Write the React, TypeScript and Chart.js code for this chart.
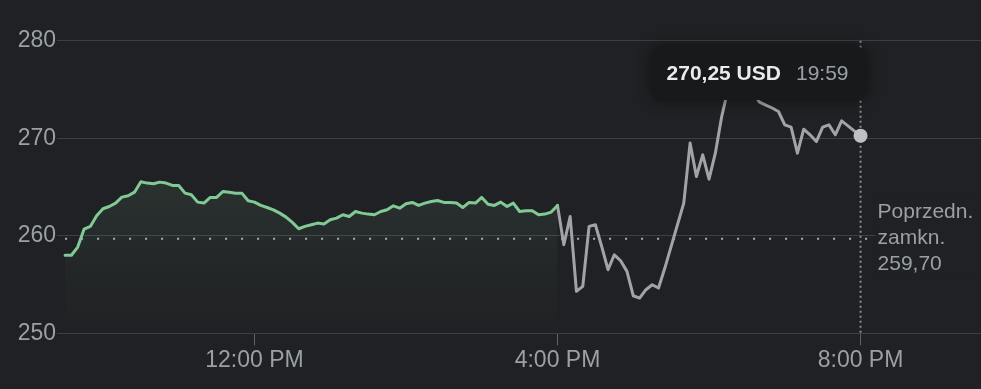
import React, { useEffect, useRef } from "react";
import { Chart, registerables } from "chart.js";

Chart.register(...registerables);

// ---- data ----
const SESSION_START = 570; // 9:30 (minutes from midnight)
const AFTER_START = 960; // 16:00
const STEP = 5; // minutes between points

const sessionValues = [
  258.0, 258.0, 258.84, 260.68, 260.96, 262.05, 262.77, 263.0, 263.35, 263.96,
  264.1, 264.47, 265.53, 265.4, 265.33, 265.5, 265.4, 265.16, 265.16, 264.37,
  264.2, 263.45, 263.35, 263.93, 263.93, 264.54, 264.47, 264.37, 264.37, 263.59,
  263.45, 263.11, 262.9, 262.66, 262.32, 261.91, 261.37, 260.72, 260.96, 261.13,
  261.3, 261.2, 261.64, 261.81, 262.15, 261.98, 262.49, 262.32, 262.22, 262.15,
  262.49, 262.66, 263.07, 262.83, 263.28, 263.42, 263.11, 263.35, 263.52, 263.62,
  263.42, 263.42, 263.35, 262.9, 263.42, 263.35, 263.93, 263.24, 263.11, 263.45,
  263.0, 263.35, 262.49, 262.56, 262.56, 262.15, 262.22, 262.43, 263.11,
];

const afterHoursValues = [
  263.11, 259.08, 261.98, 254.3, 254.81, 260.96, 261.13, 258.9, 256.52, 258.05,
  257.44, 256.35, 253.85, 253.61, 254.47, 254.98, 254.64, 256.69, 258.91, 261.13,
  263.35, 269.5, 266.08, 268.3, 265.8, 268.47, 272.2, 275.0, 275.8, 276.0,
  275.5, 274.6, 273.7, 273.4, 273.1, 272.74, 271.37, 271.14, 268.47, 270.93,
  270.35, 269.66, 271.14, 271.37, 270.35, 271.78, 271.27, 270.76, 270.25,
];

const PREV_CLOSE = 259.7;
const prevCloseLabel = ["Poprzedn.", "zamkn.", "259,70"];
const tooltipPrice = "270,25 USD";
const tooltipTime = "19:59";

const xTickValues = [720, 960, 1200];
const xTickLabels = ["12:00 PM", "4:00 PM", "8:00 PM"];
const yTickValues = [250, 260, 270, 280];
const X_MIN = 563.6;
const X_MAX = 1295.4;
const Y_MIN = 250;
const Y_MAX = 280;

// ---- styles ----
const BG = "#202124";
const GRID = "#3c4043";
const TEXT = "#9aa0a6";
const GREEN = "#81c995";
const GRAY_LINE = "#a0a4a9";
const DOT = "#bdc1c6";
const FONT = '"Liberation Sans", Arial, sans-serif';

const overlayPlugin = {
  id: "overlay",
  beforeDatasetsDraw(chart: any) {
    const { ctx, chartArea, scales } = chart;
    const x = scales.x;
    const y = scales.y;
    const lastX = x.getPixelForValue(AFTER_START + STEP * (afterHoursValues.length - 1));
    const pcY = y.getPixelForValue(PREV_CLOSE);
    ctx.save();
    // background behind the previous close label
    ctx.fillStyle = BG;
    ctx.fillRect(lastX + 15, pcY - 40, chart.width - lastX - 15, 80);
    // previous close dotted line
    ctx.strokeStyle = "#a9adb2";
    ctx.lineWidth = 2;
    ctx.setLineDash([2, 14]);
    ctx.beginPath();
    ctx.moveTo(x.getPixelForValue(SESSION_START), pcY);
    ctx.lineTo(lastX + 16, pcY);
    ctx.stroke();
    // vertical dotted line at the last point
    ctx.strokeStyle = "rgba(154,160,166,0.85)";
    ctx.lineWidth = 2;
    ctx.setLineDash([2, 3]);
    ctx.beginPath();
    ctx.moveTo(lastX, chartArea.top);
    ctx.lineTo(lastX, chartArea.bottom);
    ctx.stroke();
    ctx.setLineDash([]);
    // label
    ctx.fillStyle = TEXT;
    ctx.font = `21px ${FONT}`;
    ctx.textAlign = "left";
    ctx.textBaseline = "middle";
    prevCloseLabel.forEach((t, i) => {
      ctx.fillText(t, lastX + 17, pcY + (i - 1) * 26 - 0.5);
    });
    ctx.restore();
  },
  afterDatasetsDraw(chart: any) {
    const { ctx, scales } = chart;
    const x = scales.x;
    const lastX = x.getPixelForValue(AFTER_START + STEP * (afterHoursValues.length - 1));
    const right = lastX + 5;
    const left = lastX - 208;
    const top = 47;
    const h = 53;
    ctx.save();
    ctx.shadowColor = "rgba(0,0,0,0.55)";
    ctx.shadowBlur = 14;
    ctx.fillStyle = "#18191b";
    ctx.beginPath();
    (ctx as any).roundRect(left, top, right - left, h, 8);
    ctx.fill();
    ctx.shadowColor = "transparent";
    ctx.shadowBlur = 0;
    ctx.textBaseline = "middle";
    ctx.textAlign = "left";
    ctx.fillStyle = "#e8eaed";
    ctx.font = `bold 21px ${FONT}`;
    ctx.fillText(tooltipPrice, left + 14, top + h / 2 + 1);
    ctx.textAlign = "right";
    ctx.fillStyle = TEXT;
    ctx.font = `21px ${FONT}`;
    ctx.fillText(tooltipTime, right - 17, top + h / 2 + 1);
    ctx.restore();
  },
};

const bgPlugin = {
  id: "bg",
  beforeDraw(chart: any) {
    const { ctx } = chart;
    ctx.save();
    ctx.fillStyle = BG;
    ctx.fillRect(0, 0, chart.width, chart.height);
    ctx.restore();
  },
};

export default function App() {
  const ref = useRef<HTMLCanvasElement | null>(null);

  useEffect(() => {
    document.body.style.margin = "0";
    document.body.style.background = BG;
    const canvas = ref.current;
    if (!canvas) return;

    const sessionData = sessionValues.map((v, i) => ({ x: SESSION_START + i * STEP, y: v }));
    const afterData = afterHoursValues.map((v, i) => ({ x: AFTER_START + i * STEP, y: v }));
    const lastIndex = afterData.length - 1;

    const chart = new Chart(canvas, {
      type: "line",
      data: {
        datasets: [
          {
            data: sessionData,
            borderColor: GREEN,
            borderWidth: 3,
            borderJoinStyle: "round",
            borderCapStyle: "round",
            pointRadius: 0,
            fill: "start",
            tension: 0,
            backgroundColor: (c: any) => {
              const ch = c.chart;
              const area = ch.chartArea;
              if (!area) return "rgba(129,201,149,0.08)";
              const g = ch.ctx.createLinearGradient(0, area.top + 130, 0, area.bottom);
              g.addColorStop(0, "rgba(129,201,149,0.11)");
              g.addColorStop(0.55, "rgba(129,201,149,0.04)");
              g.addColorStop(1, "rgba(129,201,149,0)");
              return g;
            },
          },
          {
            data: afterData,
            borderColor: GRAY_LINE,
            borderWidth: 3,
            borderJoinStyle: "round",
            borderCapStyle: "round",
            tension: 0,
            fill: false,
            pointRadius: (c: any) => (c.dataIndex === lastIndex ? 7 : 0),
            pointBackgroundColor: DOT,
            pointBorderWidth: 0,
          },
        ],
      },
      options: {
        responsive: false,
        animation: false,
        layout: { autoPadding: false, padding: { top: 40.7, left: 0, right: 0, bottom: 0 } },
        plugins: {
          legend: { display: false },
          tooltip: { enabled: false },
        },
        events: [],
        scales: {
          x: {
            type: "linear",
            min: X_MIN,
            max: X_MAX,
            afterBuildTicks: (scale: any) => {
              scale.ticks = xTickValues.map((v) => ({ value: v }));
            },
            afterFit: (scale: any) => {
              scale.height = 55.7;
              scale.paddingLeft = 0;
              scale.paddingRight = 0;
            },
            border: { display: false },
            grid: {
              drawOnChartArea: false,
              drawTicks: true,
              tickLength: 12,
              color: "#5f6368",
              lineWidth: 1,
            },
            ticks: {
              autoSkip: false,
              maxRotation: 0,
              padding: 2,
              color: TEXT,
              font: { family: FONT, size: 23 },
              callback: (value: any) => {
                const i = xTickValues.indexOf(Number(value));
                return i >= 0 ? xTickLabels[i] : "";
              },
            },
          },
          y: {
            type: "linear",
            min: Y_MIN,
            max: Y_MAX,
            afterBuildTicks: (scale: any) => {
              scale.ticks = yTickValues.map((v) => ({ value: v }));
            },
            afterFit: (scale: any) => {
              scale.width = 57;
              scale.paddingTop = 0;
              scale.paddingBottom = 0;
            },
            border: { display: false },
            grid: {
              color: GRID,
              lineWidth: 1,
              drawTicks: false,
            },
            ticks: {
              padding: 1,
              color: TEXT,
              font: { family: FONT, size: 23 },
              callback: (value: any) => String(value),
            },
          },
        },
      },
      plugins: [bgPlugin, overlayPlugin],
    } as any);

    return () => chart.destroy();
  }, []);

  return (
    <canvas
      ref={ref}
      width={981}
      height={389}
      style={{ display: "block", width: 981, height: 389 }}
    />
  );
}
